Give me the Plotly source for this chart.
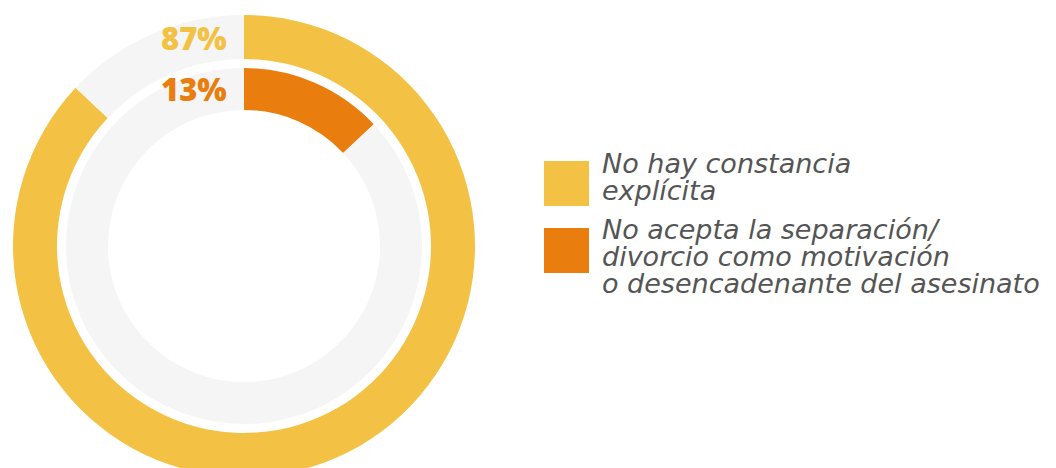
import plotly.graph_objects as go

# ---- data ----
categories = ["No hay constancia explícita",
              "No acepta la separación/ divorcio como motivación o desencadenante del asesinato"]
values = [87, 13]
pct_labels = ["87%", "13%"]
legend_lines = [["No hay constancia", "explícita"],
                ["No acepta la separación/", "divorcio como motivación", "o desencadenante del asesinato"]]

colors = ["#F3C245", "#E97E0E"]
rest_color = "#F5F5F5"
text_gray = "#555555"

W, H = 1056, 490
cx, cy = 244, 246  # pixels from top-left

def dom(r):
    x0, x1 = (cx - r) / W, (cx + r) / W
    y0, y1 = (H - (cy + r)) / H, (H - (cy - r)) / H
    return dict(x=[x0, x1], y=[y0, y1])

fig = go.Figure()
# outer ring: first category
fig.add_trace(go.Pie(values=[values[0], 100 - values[0]], labels=["a", "b"],
                     marker=dict(colors=[colors[0], rest_color], line=dict(width=0)),
                     hole=187 / 231, sort=False, direction="clockwise", rotation=0,
                     textinfo="none", hoverinfo="skip", showlegend=False,
                     domain=dom(231)))
# inner ring: second category
fig.add_trace(go.Pie(values=[values[1], 100 - values[1]], labels=["c", "d"],
                     marker=dict(colors=[colors[1], rest_color], line=dict(width=0)),
                     hole=136 / 178, sort=False, direction="clockwise", rotation=0,
                     textinfo="none", hoverinfo="skip", showlegend=False,
                     domain=dom(178)))

ann = []
# percentage labels
for lab, col, ypx in zip(pct_labels, colors, [38, 89]):
    ann.append(dict(text=lab, x=229 / W, y=(H - ypx) / H, xref="paper", yref="paper",
                    xanchor="right", yanchor="middle", showarrow=False,
                    font=dict(family="Open Sans", size=31, color=col, weight=800)))

# legend swatches and text
sw_top = [161, 228]
line_centers = [[163, 190], [229, 256, 283]]
shapes = []
for i in range(2):
    shapes.append(dict(type="rect", xref="paper", yref="paper",
                       x0=544 / W, x1=589 / W,
                       y0=(H - (sw_top[i] + 45)) / H, y1=(H - sw_top[i]) / H,
                       fillcolor=colors[i], line=dict(width=0)))
    for t, yc in zip(legend_lines[i], line_centers[i]):
        ann.append(dict(text=t, x=600 / W, y=(H - yc) / H, xref="paper", yref="paper",
                        xanchor="left", yanchor="middle", showarrow=False,
                        font=dict(family="DejaVu Sans", size=27, color=text_gray, style="italic")))

fig.update_layout(width=W, height=H, margin=dict(l=0, r=0, t=0, b=0),
                  paper_bgcolor="white", plot_bgcolor="white",
                  annotations=ann, shapes=shapes, showlegend=False)

fig.write_html("out.html", config={"displayModeBar": False},
               post_script="document.body.style.margin='0';document.body.style.overflow='hidden';")
